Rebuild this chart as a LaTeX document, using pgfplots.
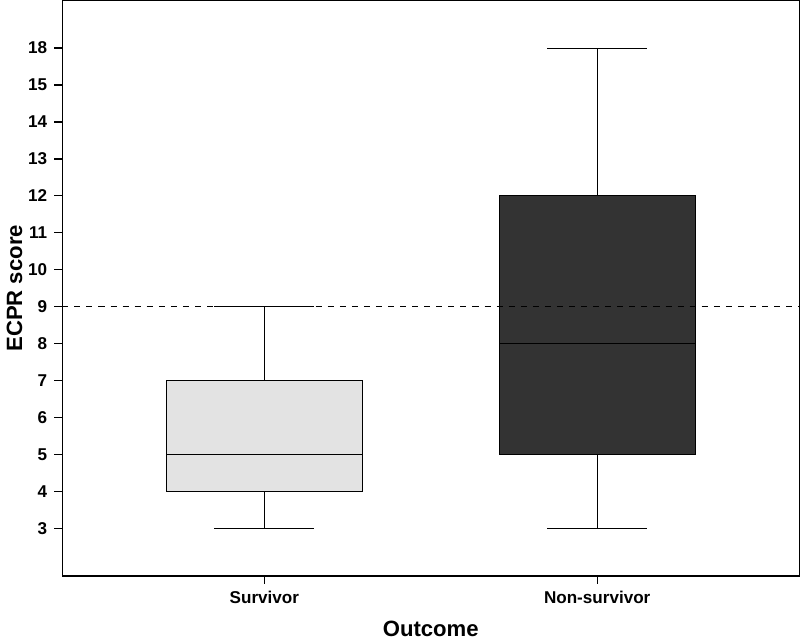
\documentclass[border=0pt]{standalone}
\usepackage{pgfplots}
\pgfplotsset{compat=1.18}
\usepackage{fontspec}
\setmainfont{Liberation Sans}
\definecolor{lightbox}{HTML}{E3E3E3}
\definecolor{darkbox}{HTML}{333333}
\begin{document}
\begin{tikzpicture}
\begin{axis}[
  scale only axis,
  width=366.5pt, height=286pt,
  xmin=0.393, xmax=2.607,
  ymin=1.72, ymax=17.28,
  xtick={1,2}, xticklabels={Survivor,Non-survivor},
  ytick={3,4,5,6,7,8,9,10,11,12,13,14,15,16},
  yticklabels={3,4,5,6,7,8,9,10,11,12,13,14,15,18},
  tick align=outside, xtick pos=bottom, ytick pos=left,
  major tick length=4pt,
  tick style={black, line width=0.6pt},
  axis line style={line width=0.75pt},
  ticklabel style={font=\bfseries\fontsize{8.5}{10}\selectfont},
  /pgf/number format/assume math mode=true,
  xlabel={Outcome}, ylabel={ECPR score},
  label style={font=\bfseries\fontsize{11}{12}\selectfont},
  xlabel style={yshift=-2pt},
  ylabel style={yshift=-4pt},
]
% Survivor: min 3, Q1 4, median 5, Q3 7, max 9
\addplot[black, line width=0.5pt] coordinates {(1,3) (1,4)};
\addplot[black, line width=0.5pt] coordinates {(1,7) (1,9)};
\addplot[black, line width=0.5pt] coordinates {(0.85,3) (1.15,3)};
\addplot[black, line width=0.5pt] coordinates {(0.85,9) (1.15,9)};
\addplot[black, line width=0.5pt, fill=lightbox] coordinates {(0.705,4) (1.295,4) (1.295,7) (0.705,7)} -- cycle;
\addplot[black, line width=0.5pt] coordinates {(0.705,5) (1.295,5)};
% Non-survivor: min 3, Q1 5, median 8, Q3 12, max 16 (labelled 18)
\addplot[black, line width=0.5pt] coordinates {(2,3) (2,5)};
\addplot[black, line width=0.5pt] coordinates {(2,12) (2,16)};
\addplot[black, line width=0.5pt] coordinates {(1.85,3) (2.15,3)};
\addplot[black, line width=0.5pt] coordinates {(1.85,16) (2.15,16)};
\addplot[black, line width=0.5pt, fill=darkbox] coordinates {(1.705,5) (2.295,5) (2.295,12) (1.705,12)} -- cycle;
\addplot[black, line width=0.5pt] coordinates {(1.705,8) (2.295,8)};
% reference line
\addplot[black, dashed, line width=0.5pt] coordinates {(0.393,9) (2.607,9)};
\end{axis}
\end{tikzpicture}
\end{document}
